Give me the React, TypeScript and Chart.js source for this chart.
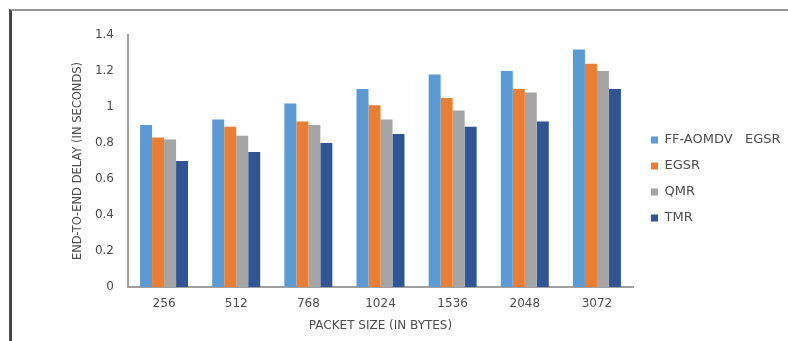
import React, { useEffect, useRef } from "react";
import { Chart, registerables } from "chart.js";

Chart.register(...registerables);

const categories = ["256", "512", "768", "1024", "1536", "2048", "3072"];
const seriesNames = ["FF-AOMDV   EGSR", "EGSR", "QMR", "TMR"];
const ffAomdv = [0.9, 0.93, 1.02, 1.1, 1.18, 1.2, 1.32];
const egsr = [0.83, 0.89, 0.92, 1.01, 1.05, 1.1, 1.24];
const qmr = [0.82, 0.84, 0.9, 0.93, 0.98, 1.08, 1.2];
const tmr = [0.7, 0.75, 0.8, 0.85, 0.89, 0.92, 1.1];
const yTickLabels = ["0", "0.2", "0.4", "0.6", "0.8", "1", "1.2", "1.4"];
const colors = ["#5B9BD5", "#ED7D31", "#A5A5A5", "#2F5597"];

const FONT = "'DejaVu Sans', sans-serif";
const TEXT = "#4d4d4d";

const legendPlacer = {
  id: "legendPlacer",
  afterLayout(chart: any) {
    const l = chart.legend;
    if (!l) return;
    const dx = 638 - l.left;
    const dy = 120.5 - l.top;
    l.left += dx;
    l.right += dx;
    l.top += dy;
    l.bottom += dy;
  },
};

export default function App() {
  const ref = useRef<HTMLCanvasElement | null>(null);

  useEffect(() => {
    if (!ref.current) return;
    const values = [ffAomdv, egsr, qmr, tmr];
    const chart = new Chart(ref.current, {
      type: "bar",
      data: {
        labels: categories,
        datasets: values.map((v, i) => ({
          label: seriesNames[i],
          data: v,
          backgroundColor: colors[i],
          borderWidth: 0,
          categoryPercentage: 0.665,
          barPercentage: 1,
        })),
      },
      options: {
        responsive: false,
        animation: false,
        devicePixelRatio: 1,
        layout: { padding: { left: 60, top: 35, right: 10, bottom: 0 } },
        plugins: {
          tooltip: { enabled: false },
          legend: {
            display: true,
            position: "right",
            align: "start",
            maxWidth: 145,
            labels: {
              boxWidth: 7,
              boxHeight: 7,
              padding: 13,
              color: TEXT,
              font: { family: FONT, size: 13 },
            },
          },
        },
        scales: {
          x: {
            grid: { display: false, drawTicks: false },
            border: { display: true, color: "#A0A0A0", width: 2 },
            ticks: { color: TEXT, font: { family: FONT, size: 12 }, padding: 10 },
            title: {
              display: true,
              text: "PACKET SIZE (IN BYTES)",
              color: TEXT,
              font: { family: FONT, size: 12 },
              padding: { top: 4, bottom: 8 },
            },
            afterFit(scale: any) {
              scale.height = 54;
            },
          },
          y: {
            min: 0,
            max: 1.4,
            grid: { display: false, drawTicks: false },
            border: { display: true, color: "#A0A0A0", width: 2 },
            ticks: {
              stepSize: 0.2,
              color: TEXT,
              font: { family: FONT, size: 12 },
              padding: 14,
              callback: (_v: any, i: number) => yTickLabels[i],
            },
            title: {
              display: true,
              text: "END-TO-END DELAY (IN SECONDS)",
              color: TEXT,
              font: { family: FONT, size: 11.5 },
              padding: { top: 11, bottom: 4 },
            },
            afterFit(scale: any) {
              scale.width = 68;
            },
          },
        },
      },
      plugins: [legendPlacer],
    });
    return () => chart.destroy();
  }, []);

  return (
    <div
      style={{
        position: "fixed",
        left: 0,
        top: 0,
        width: 788,
        height: 341,
        background: "#fff",
        overflow: "hidden",
      }}
    >
      <div
        style={{
          position: "absolute",
          left: 9,
          top: 9,
          width: 800,
          height: 400,
          borderLeft: "3px solid #484848",
          borderTop: "2px solid #999999",
        }}
      />
      <canvas
        ref={ref}
        width={788}
        height={341}
        style={{ position: "absolute", left: 0, top: 0, width: 788, height: 341 }}
      />
    </div>
  );
}
